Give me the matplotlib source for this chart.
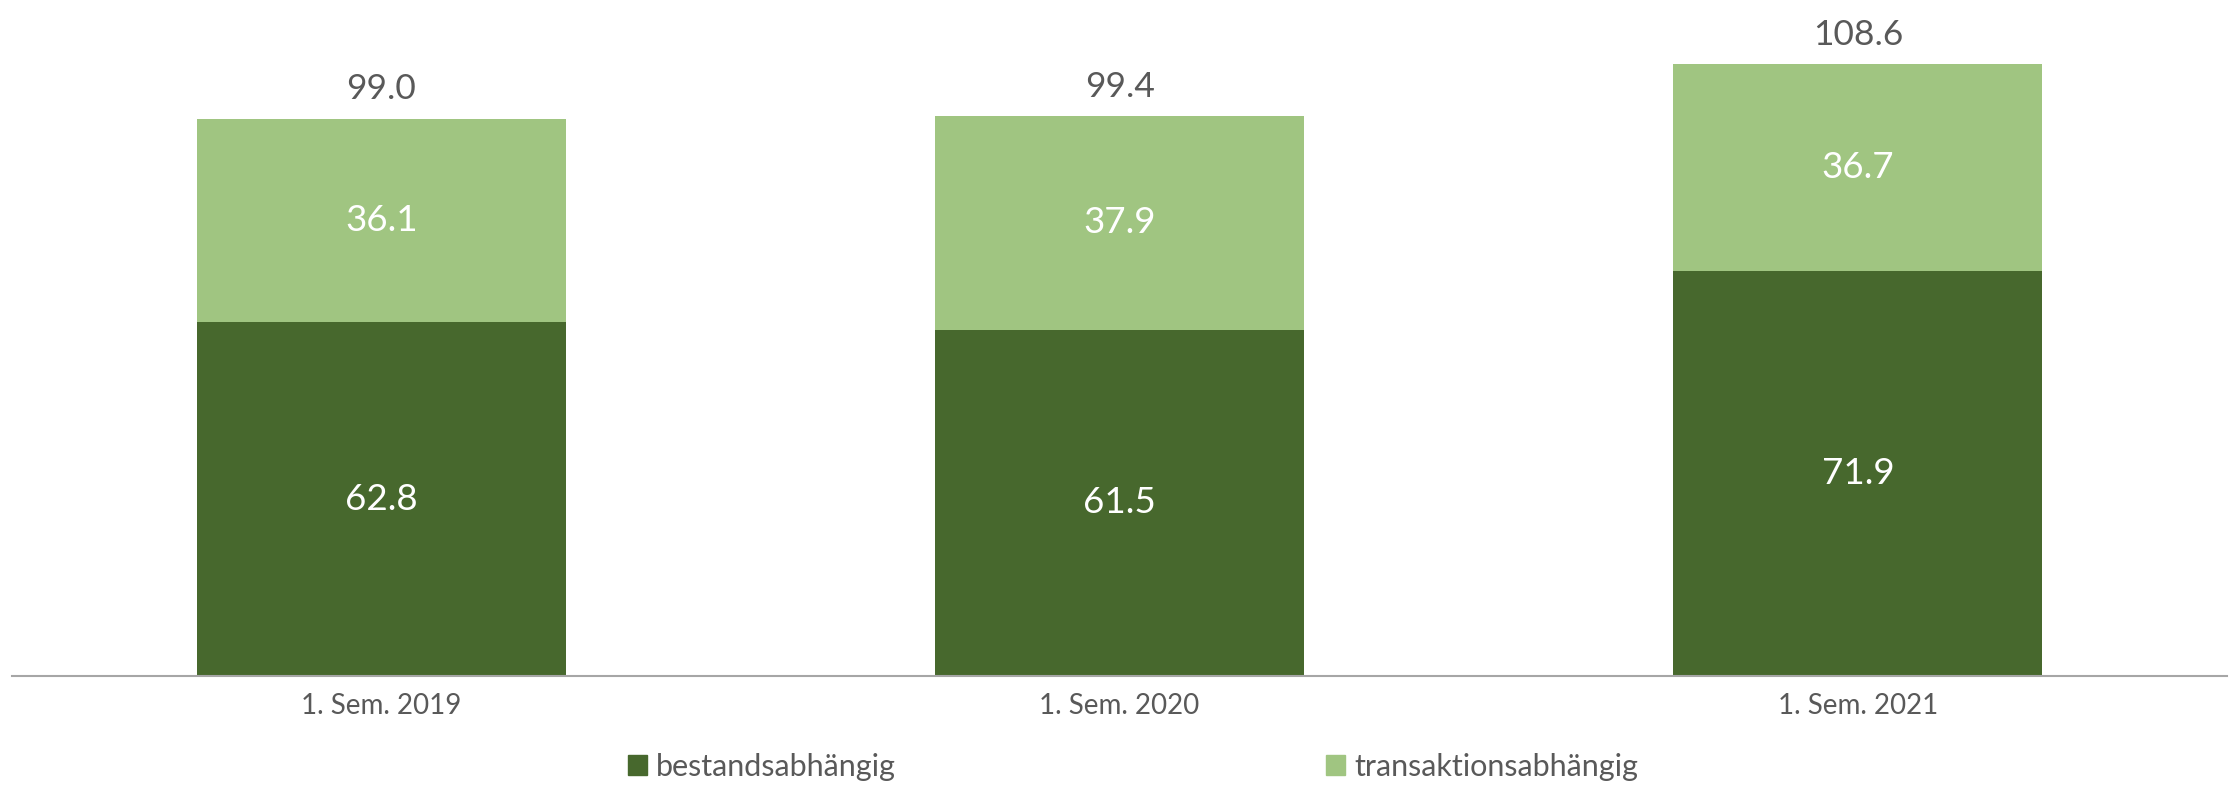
import matplotlib.pyplot as plt
from matplotlib.patches import Patch

plt.rcParams['font.family'] = ['Lato', 'DejaVu Sans']

# data
categories = ['1. Sem. 2019', '1. Sem. 2020', '1. Sem. 2021']
bestand = [62.8, 61.5, 71.9]
transaktion = [36.1, 37.9, 36.7]
totals = [99.0, 99.4, 108.6]

dark = '#47682D'
light = '#A0C581'
grey = '#595959'

fig = plt.figure(figsize=(22.36, 7.85), dpi=100)
ax = fig.add_axes([0.0054, 0.1389, 0.9906, 0.8611])

x = range(len(categories))
ax.bar(x, bestand, width=0.5, color=dark)
ax.bar(x, transaktion, width=0.5, bottom=bestand, color=light)

for i in x:
    ax.text(i, bestand[i] / 2, f'{bestand[i]:.1f}', ha='center', va='center',
            color='white', fontsize=26.5)
    ax.text(i, bestand[i] + transaktion[i] / 2, f'{transaktion[i]:.1f}',
            ha='center', va='center', color='white', fontsize=26.5)
    ax.text(i, totals[i] + 2.3, f'{totals[i]:.1f}', ha='center', va='bottom',
            color=grey, fontsize=25.5)

ax.set_xlim(-0.5, 2.5)
ax.set_ylim(0, 120)
ax.set_xticks(list(x))
ax.set_xticklabels(categories, fontsize=20, color=grey)
ax.tick_params(axis='x', length=0, pad=12)
ax.set_yticks([])
for s in ['top', 'right', 'left']:
    ax.spines[s].set_visible(False)
ax.spines['bottom'].set_color('#A6A6A6')
ax.spines['bottom'].set_linewidth(1.5)

handles = [Patch(color=dark, label='bestandsabhängig'),
           Patch(color=light, label='transaktionsabhängig')]
fig.legend(handles=handles, loc='center', bbox_to_anchor=(0.5067, 0.023), ncol=2,
           frameon=False, fontsize=22, labelcolor=grey, handlelength=0.6,
           handleheight=0.6, handletextpad=0.3, columnspacing=14.1)

fig.savefig('out.png', dpi=100)
